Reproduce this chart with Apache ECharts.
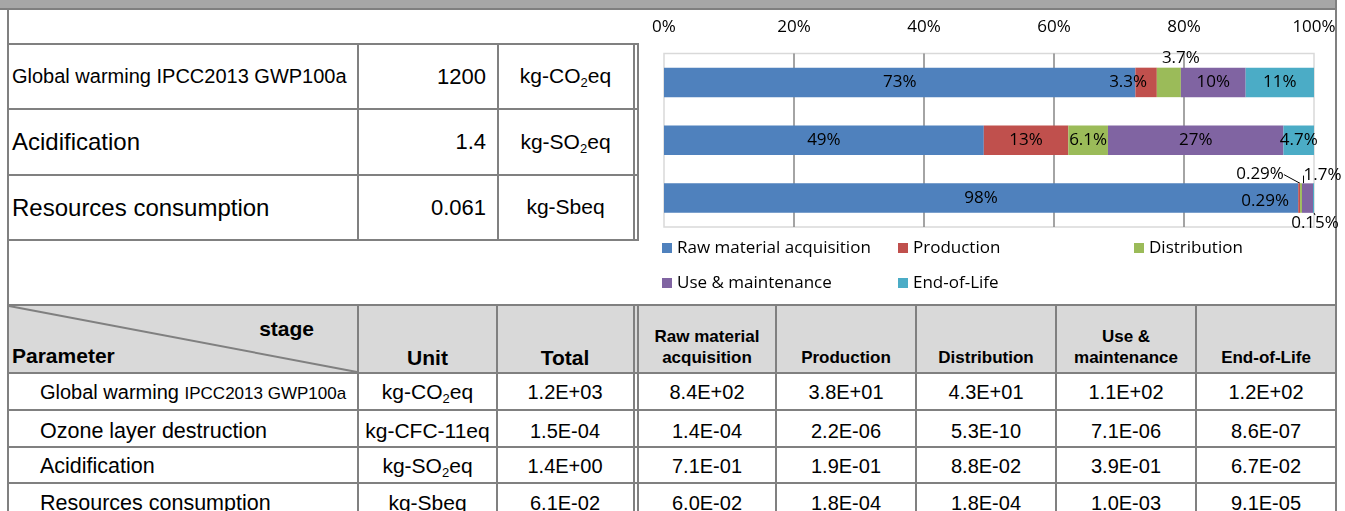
<!DOCTYPE html>
<html>
<head>
<meta charset="utf-8">
<script src="https://cdn.jsdelivr.net/npm/echarts@6/dist/echarts.min.js"></script>
<style>
html,body{margin:0;padding:0;width:1345px;height:511px;overflow:hidden;background:#fff;font-family:"Liberation Sans",Arial,sans-serif;color:#000;}
#root{position:absolute;left:0;top:0;width:1345px;height:511px;}
#chart{position:absolute;left:0;top:0;width:1345px;height:511px;}
sub{font-size:0.62em;vertical-align:-0.3em;line-height:0;}
.sm{font-size:17px;}
</style>
</head>
<body>
<div id="root"></div>
<div id="chart"></div>
<script>
// ---------- chart data ----------
const categories = ['Global warming IPCC2013 GWP100a', 'Acidification', 'Resources consumption'];
const stages = ['Raw material acquisition', 'Production', 'Distribution', 'Use & maintenance', 'End-of-Life'];
const rawMaterial    = [72.52, 49.2, 97.57];
const production     = [3.3, 13, 0.29];
const distribution   = [3.7, 6.1, 0.29];
const useMaintenance = [9.97, 27, 1.7];
const endOfLife      = [10.51, 4.7, 0.15];
const axisMin = 0, axisMax = 100, axisStep = 20;

// ---------- summary table ----------
const summaryNames  = ['Global warming IPCC2013 GWP100a', 'Acidification', 'Resources consumption'];
const summaryValues = ['1200', '1.4', '0.061'];
const summaryUnits  = ['kg-CO<sub>2</sub>eq', 'kg-SO<sub>2</sub>eq', 'kg-Sbeq'];

// ---------- detail table ----------
const tableHeaders  = ['Raw material<br>acquisition', 'Production', 'Distribution', 'Use &amp;<br>maintenance', 'End-of-Life'];
const paramNames    = ['Global warming <span class="sm">IPCC2013 GWP100a</span>', 'Ozone layer destruction', 'Acidification', 'Resources consumption'];
const paramUnits    = ['kg-CO<sub>2</sub>eq', 'kg-CFC-11eq', 'kg-SO<sub>2</sub>eq', 'kg-Sbeq'];
const paramTotals   = ['1.2E+03', '1.5E-04', '1.4E+00', '6.1E-02'];
const rawValues     = ['8.4E+02', '1.4E-04', '7.1E-01', '6.0E-02'];
const prodValues    = ['3.8E+01', '2.2E-06', '1.9E-01', '1.8E-04'];
const distValues    = ['4.3E+01', '5.3E-10', '8.8E-02', '1.8E-04'];
const useValues     = ['1.1E+02', '7.1E-06', '3.9E-01', '1.0E-03'];
const eolValues     = ['1.2E+02', '8.6E-07', '6.7E-02', '9.1E-05'];

// ---------- table drawing ----------
const root = document.getElementById('root');
const LC = '#808080';
function rect(x, y, w, h, bg) {
  const d = document.createElement('div');
  d.style.cssText = `position:absolute;left:${x}px;top:${y}px;width:${w}px;height:${h}px;background:${bg};`;
  root.appendChild(d);
}
function hline(x1, x2, y) { rect(x1, y - 1, x2 - x1, 2, LC); }
function vline(x, y1, y2) { rect(x - 1, y1, 2, y2 - y1, LC); }
function cell(x1, x2, y1, y2, html, o) {
  const d = document.createElement('div');
  d.style.cssText = `position:absolute;left:${x1}px;top:${y1}px;width:${x2 - x1}px;height:${y2 - y1}px;` +
    `display:flex;align-items:${o.v || 'center'};justify-content:${o.h || 'center'};box-sizing:border-box;` +
    `padding:${o.pad || '0'};font-size:${o.fs}px;font-weight:${o.bold ? 'bold' : 'normal'};white-space:nowrap;` +
    `line-height:${o.lh || '1.15'};text-align:center;`;
  const s = document.createElement('span');
  s.innerHTML = html;
  d.appendChild(s);
  root.appendChild(d);
}

// top band
rect(0, 0, 1337, 8, '#a6a6a6');
rect(0, 8, 1337, 2, '#7f7f7f');
// outer borders
vline(8, 8, 511);
vline(1336, 0, 511);

// summary table
const sRows = [44, 109, 175, 240];
sRows.forEach(y => hline(8, 639, y));
vline(358, 44, 240); vline(498, 44, 240); vline(633.5, 44, 240); vline(638, 44, 240);
const sNameFs = [20, 24, 24];
for (let i = 0; i < 3; i++) {
  cell(9, 357, sRows[i] + 1, sRows[i + 1] - 1, summaryNames[i], {h: 'flex-start', pad: '0 0 0 3px', fs: sNameFs[i]});
  cell(359, 497, sRows[i] + 1, sRows[i + 1] - 1, summaryValues[i], {h: 'flex-end', pad: '0 11px 0 0', fs: 22});
  cell(499, 632, sRows[i] + 1, sRows[i + 1] - 1, summaryUnits[i], {fs: 21});
}

// detail table
const dRows = [305, 373, 410, 447, 483, 520];
rect(9, 306, 1326, 67, '#d9d9d9');
dRows.forEach(y => hline(8, 1337, y));
[358, 497, 633.5, 638, 776, 916, 1056, 1196].forEach(x => vline(x, 305, 511));
// diagonal
const svgNS = 'http://www.w3.org/2000/svg';
const svg = document.createElementNS(svgNS, 'svg');
svg.setAttribute('width', '1345'); svg.setAttribute('height', '511');
svg.style.cssText = 'position:absolute;left:0;top:0;';
const dl = document.createElementNS(svgNS, 'line');
dl.setAttribute('x1', '9'); dl.setAttribute('y1', '306'); dl.setAttribute('x2', '357'); dl.setAttribute('y2', '372');
dl.setAttribute('stroke', LC); dl.setAttribute('stroke-width', '2');
svg.appendChild(dl);
root.appendChild(svg);
// header texts
cell(9, 314, 306, 352, 'stage', {h: 'flex-end', fs: 21, bold: true});
cell(9, 357, 340, 372, 'Parameter', {h: 'flex-start', pad: '0 0 0 3px', fs: 21, bold: true});
cell(359, 496, 306, 372, 'Unit', {v: 'flex-end', pad: '0 0 4px 0', fs: 21, bold: true, lh: '21px'});
cell(498, 632, 306, 372, 'Total', {v: 'flex-end', pad: '0 0 4px 0', fs: 21, bold: true, lh: '21px'});
const stageCols = [[639, 775], [777, 915], [917, 1055], [1057, 1195], [1197, 1335]];
tableHeaders.forEach((h, i) => {
  cell(stageCols[i][0], stageCols[i][1], 306, 372, h, {v: 'flex-end', pad: '0 0 4px 0', fs: 17, bold: true, lh: '21px'});
});
const stageValues = [rawValues, prodValues, distValues, useValues, eolValues];
const rowShift = [1, 3, 1, 2];
for (let r = 0; r < 4; r++) {
  const y1 = dRows[r + 1] + 1 + rowShift[r], y2 = dRows[r + 2] - 1 + rowShift[r];
  cell(9, 357, y1, y2, paramNames[r], {h: 'flex-start', pad: '0 0 0 31px', fs: r === 0 ? 20 : 21.5});
  cell(359, 496, y1, y2, paramUnits[r], {fs: 21});
  cell(498, 632, y1, y2, paramTotals[r], {fs: 20});
  stageValues.forEach((vals, i) => cell(stageCols[i][0], stageCols[i][1], y1, y2, vals[r], {fs: 20}));
}

// ---------- chart ----------
const colors = ['#4f81bd', '#c0504d', '#9bbb59', '#8064a2', '#4bacc6'];
const seriesValues = [rawMaterial, production, distribution, useMaintenance, endOfLife];
const labelShift = {
  '1-0': {dx: -18, dy: 0},
  '2-0': {dx: 12, dy: -24.5},
  '1-2': {dx: -34, dy: 3, line: true},
  '2-2': {dx: -41, dy: -23.5, line: true},
  '3-2': {dx: 15, dy: -22.5, line: true},
  '4-2': {dx: 1.5, dy: 25.5, line: true}
};
const FONT = 'Open Sans';
const FS = 17;
const fmt = v => Number(v.toPrecision(2)) + '%';
const chart = echarts.init(document.getElementById('chart'));
chart.setOption({
  animation: false,
  grid: {left: 664, right: 31, top: 53.5, bottom: 284, show: true, borderColor: '#d9d9d9', borderWidth: 1.5, containLabel: false},
  xAxis: {
    type: 'value', position: 'top', min: axisMin, max: axisMax, interval: axisStep,
    axisLabel: {formatter: '{value}%', fontFamily: FONT, fontSize: FS, color: '#000', margin: 18},
    axisLine: {show: false}, axisTick: {show: false},
    splitLine: {show: true, showMinLine: false, showMaxLine: false, lineStyle: {color: '#868686', width: 1.5}}
  },
  yAxis: {type: 'category', data: categories, inverse: true, show: false},
  legend: stages.map((name, i) => ({
    data: [name], left: [662, 898, 1134, 662, 898][i], top: i < 3 ? 239.5 : 274.5,
    padding: 0, itemWidth: 10, itemHeight: 10, icon: 'rect', selectedMode: false,
    textStyle: {fontFamily: FONT, fontSize: FS, color: '#000', lineHeight: 17}
  })),
  series: stages.map((name, si) => ({
    name, type: 'bar', stack: 'total', barWidth: '51%',
    itemStyle: {color: colors[si]},
    emphasis: {disabled: true},
    label: {show: true, position: 'inside', color: '#000', fontFamily: FONT, fontSize: FS, textBorderWidth: 0,
      formatter: p => fmt(p.value)},
    labelLayout: p => {
      const s = labelShift[p.seriesIndex + '-' + p.dataIndex];
      return s ? {dx: s.dx, dy: s.dy} : {};
    },
    data: seriesValues[si].map((v, di) => {
      const s = labelShift[si + '-' + di];
      return (s && s.line) ? {value: v, labelLine: {show: true, lineStyle: {color: '#000', width: 1}}} : v;
    })
  }))
});
</script>
</body>
</html>
